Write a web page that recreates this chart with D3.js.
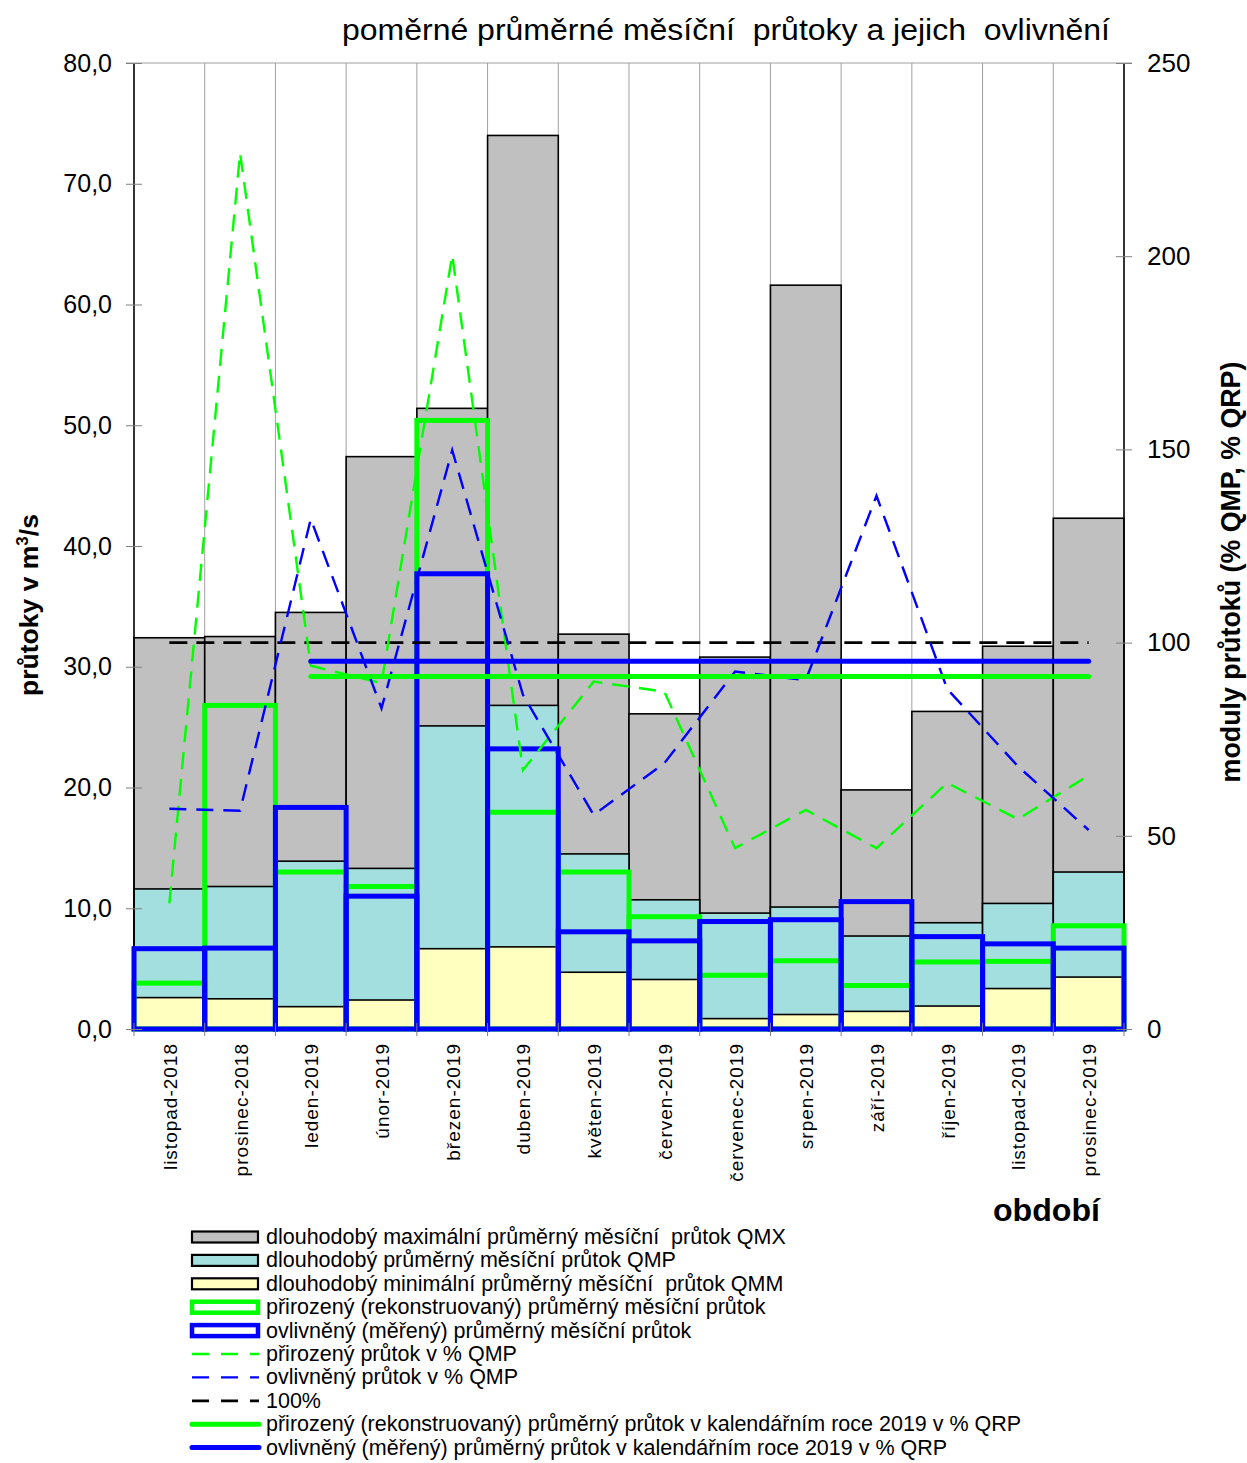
<!DOCTYPE html>
<html><head><meta charset="utf-8">
<script src="https://cdn.jsdelivr.net/npm/d3@7"></script>
<style>
html,body{margin:0;padding:0;background:#fff;}
text{font-family:"Liberation Sans",Arial,sans-serif;fill:#000;}
</style></head>
<body>
<svg id="chart" width="1247" height="1463"></svg>
<script>
const categories = ["listopad-2018","prosinec-2018","leden-2019","únor-2019","březen-2019","duben-2019","květen-2019","červen-2019","červenec-2019","srpen-2019","září-2019","říjen-2019","listopad-2019","prosinec-2019"];
const qmx = [32.4, 32.5, 34.5, 47.4, 51.4, 74.0, 32.7, 26.1, 30.8, 61.6, 19.8, 26.3, 31.7, 42.3];
const qmp = [11.6, 11.8, 13.9, 13.3, 25.1, 26.8, 14.5, 10.7, 9.6, 10.1, 7.7, 8.8, 10.4, 13.0];
const qmm = [2.6, 2.5, 1.85, 2.4, 6.65, 6.8, 4.7, 4.1, 0.86, 1.2, 1.46, 1.9, 3.35, 4.3];
const natural = [3.8, 26.8, 13.0, 11.8, 50.4, 17.95, 13.0, 9.3, 4.45, 5.65, 3.6, 5.55, 5.6, 8.55];
const measured = [6.65, 6.7, 18.35, 11.0, 37.7, 23.2, 8.05, 7.3, 8.9, 9.05, 10.55, 7.65, 7.05, 6.7];
const naturalPct = [32.5, 226.7, 94, 89.5, 200.3, 67, 89.9, 87.3, 46.8, 56.7, 46.8, 63.7, 54.3, 65.6];
const measuredPct = [57, 56.5, 132, 83, 149.8, 86.5, 55.4, 68.8, 92.5, 90.3, 138, 88, 68, 51.5];
const refPct = 100;
const naturalYearPct = 91.2;
const measuredYearPct = 95.2;
const yearCats = ["leden-2019","prosinec-2019"];
const leftTicks = [0,10,20,30,40,50,60,70,80];
const rightTicks = [0,50,100,150,200,250];
const title = "poměrné průměrné měsíční  průtoky a jejich  ovlivnění";
const legendLabels = [
 "dlouhodobý maximální průměrný měsíční  průtok QMX",
 "dlouhodobý průměrný měsíční průtok QMP",
 "dlouhodobý minimální průměrný měsíční  průtok QMM",
 "přirozený (rekonstruovaný) průměrný měsíční průtok",
 "ovlivněný (měřený) průměrný měsíční průtok",
 "přirozený průtok v % QMP",
 "ovlivněný průtok v % QMP",
 "100%",
 "přirozený (rekonstruovaný) průměrný průtok v kalendářním roce 2019 v % QRP",
 "ovlivněný (měřený) průměrný průtok v kalendářním roce 2019 v % QRP"
];

const C = {grey:"#c0c0c0", cyan:"#a4dfe0", yellow:"#ffffc0", green:"#00ff00", blue:"#0000ff", grid:"#a0a0a0"};
const L=134, R=1124, T=63, B=1029;
const svg = d3.select("#chart");
const x = d3.scaleBand().domain(categories).range([L,R]).padding(0);
const yL = d3.scaleLinear().domain([0,80]).range([B,T]);
const yR = d3.scaleLinear().domain([0,250]).range([B,T]);
const cx = c => x(c) + x.bandwidth()/2;

// grid
const g = svg.append("g");
g.selectAll("line.vg").data(categories.slice(1)).join("line")
  .attr("x1", d=>x(d)).attr("x2", d=>x(d)).attr("y1",T).attr("y2",B)
  .attr("stroke",C.grid).attr("stroke-width",1);
g.append("line").attr("x1",L-8).attr("x2",R+8).attr("y1",T).attr("y2",T).attr("stroke",C.grid).attr("stroke-width",1.2);

// bars
function bars(arr, fill){
  svg.append("g").selectAll("rect").data(categories).join("rect")
    .attr("x", d=>x(d)).attr("width", x.bandwidth())
    .attr("y", (d,i)=>yL(arr[i])).attr("height",(d,i)=>yL(0)-yL(arr[i]))
    .attr("fill", fill).attr("stroke","#000").attr("stroke-width",1.6);
}
bars(qmx, C.grey); bars(qmp, C.cyan); bars(qmm, C.yellow);

// axes lines
svg.append("line").attr("x1",L).attr("x2",L).attr("y1",T).attr("y2",B).attr("stroke","#000").attr("stroke-width",1.6);
svg.append("line").attr("x1",R).attr("x2",R).attr("y1",T).attr("y2",B).attr("stroke","#000").attr("stroke-width",1.6);

// step outlines
function steps(arr, color){
  svg.append("g").selectAll("rect").data(categories).join("rect")
    .attr("x", d=>x(d)).attr("width", x.bandwidth())
    .attr("y", (d,i)=>yL(arr[i])).attr("height",(d,i)=>yL(0)-yL(arr[i]))
    .attr("fill","none").attr("stroke",color).attr("stroke-width",5);
}
steps(natural, C.green); steps(measured, C.blue);

// left axis
const la = svg.append("g").attr("transform",`translate(${L},0)`)
  .call(d3.axisLeft(yL).tickValues(leftTicks).tickSize(8).tickFormat(d=>d3.format(".1f")(d).replace(".",",")));
la.select(".domain").remove();
la.selectAll(".tick line").attr("x2",8).attr("x1",-8).attr("stroke","#808080");
la.selectAll(".tick text").attr("x",-22).attr("font-size",25).attr("font-family","Liberation Sans, Arial, sans-serif").attr("fill","#000");

// right axis
const ra = svg.append("g").attr("transform",`translate(${R},0)`)
  .call(d3.axisRight(yR).tickValues(rightTicks).tickSize(8));
ra.select(".domain").remove();
ra.selectAll(".tick line").attr("x1",-8).attr("x2",8).attr("stroke","#808080");
ra.selectAll(".tick text").attr("x",23).attr("font-size",26).attr("font-family","Liberation Sans, Arial, sans-serif").attr("fill","#000");

// bottom ticks
svg.append("g").selectAll("line").data(categories.concat(["__end"])).join("line")
  .attr("x1",(d,i)=>L+i*x.bandwidth()).attr("x2",(d,i)=>L+i*x.bandwidth())
  .attr("y1",B-6).attr("y2",B+7).attr("stroke","#808080");

// line series
const line = d3.line().x((d,i)=>cx(categories[i])).y(d=>yR(d));
svg.append("path").datum(categories.map(()=>refPct))
  .attr("d", line).attr("fill","none").attr("stroke","#000").attr("stroke-width",2.8).attr("stroke-dasharray","18,9");
svg.append("path").datum(naturalPct).attr("d", line).attr("fill","none")
  .attr("stroke",C.green).attr("stroke-width",2.4).attr("stroke-dasharray","17,10");
svg.append("path").datum(measuredPct).attr("d", line).attr("fill","none")
  .attr("stroke",C.blue).attr("stroke-width",2.4).attr("stroke-dasharray","17,10");
function yearLine(v,color){
  svg.append("line").attr("x1",cx(yearCats[0])).attr("x2",cx(yearCats[1]))
   .attr("y1",yR(v)).attr("y2",yR(v)).attr("stroke",color).attr("stroke-width",5).attr("stroke-linecap","round");
}
yearLine(measuredYearPct, C.blue);
yearLine(naturalYearPct, C.green);

// x labels
svg.append("g").selectAll("text").data(categories).join("text")
  .attr("transform", d=>`translate(${cx(d)+1},1043) rotate(-90)`)
  .attr("text-anchor","end").attr("dominant-baseline","central")
  .attr("font-size",19).attr("letter-spacing",1).text(d=>d);

// title
svg.append("text").attr("x",726).attr("y",40).attr("text-anchor","middle")
  .attr("font-size",30).attr("textLength",768).attr("lengthAdjust","spacingAndGlyphs")
  .style("white-space","pre").text(title);

// axis titles
const lt = svg.append("text").attr("transform","translate(38,605) rotate(-90)")
  .attr("text-anchor","middle").attr("font-size",26.5).attr("font-weight","bold");
lt.append("tspan").text("průtoky v m");
lt.append("tspan").attr("font-size",17).attr("dy",-10).text("3");
lt.append("tspan").attr("dy",10).text("/s");
svg.append("text").attr("transform","translate(1240,572) rotate(-90)")
  .attr("text-anchor","middle").attr("font-size",26.8).attr("font-weight","bold")
  .text("moduly průtoků (% QMP, % QRP)");
svg.append("text").attr("x",1100).attr("y",1221).attr("text-anchor","end")
  .attr("font-size",31).attr("font-weight","bold").attr("textLength",107).attr("lengthAdjust","spacingAndGlyphs").text("období");

// legend
const lg = svg.append("g");
const rowY = i => 1237 + i*23.4;
const boxStyles = [
  {fill:C.grey, stroke:"#000", sw:2.2},
  {fill:C.cyan, stroke:"#000", sw:2.2},
  {fill:C.yellow, stroke:"#000", sw:2.2},
  {fill:"#fff", stroke:C.green, sw:4.5},
  {fill:"#fff", stroke:C.blue, sw:4.5}
];
boxStyles.forEach((s,i)=>{
  lg.append("rect").attr("x",192).attr("y",rowY(i)-5.5).attr("width",66).attr("height",11)
    .attr("fill",s.fill).attr("stroke",s.stroke).attr("stroke-width",s.sw);
});
const lineStyles = [
  {stroke:C.green, sw:2.4, dash:"17,12"},
  {stroke:C.blue, sw:2.4, dash:"17,12"},
  {stroke:"#000", sw:2.8, dash:"17,12"},
  {stroke:C.green, sw:5, dash:null},
  {stroke:C.blue, sw:5, dash:null}
];
lineStyles.forEach((s,j)=>{
  const i = j+5;
  const ln = lg.append("line").attr("x1",192).attr("x2",259).attr("y1",rowY(i)).attr("y2",rowY(i))
    .attr("stroke",s.stroke).attr("stroke-width",s.sw).attr("stroke-linecap", s.dash?"butt":"round");
  if(s.dash) ln.attr("stroke-dasharray",s.dash);
});
lg.selectAll("text").data(legendLabels).join("text")
  .attr("x",266).attr("y",(d,i)=>rowY(i)).attr("dominant-baseline","central")
  .attr("font-size",21.5).style("white-space","pre").text(d=>d);
</script>
</body></html>
